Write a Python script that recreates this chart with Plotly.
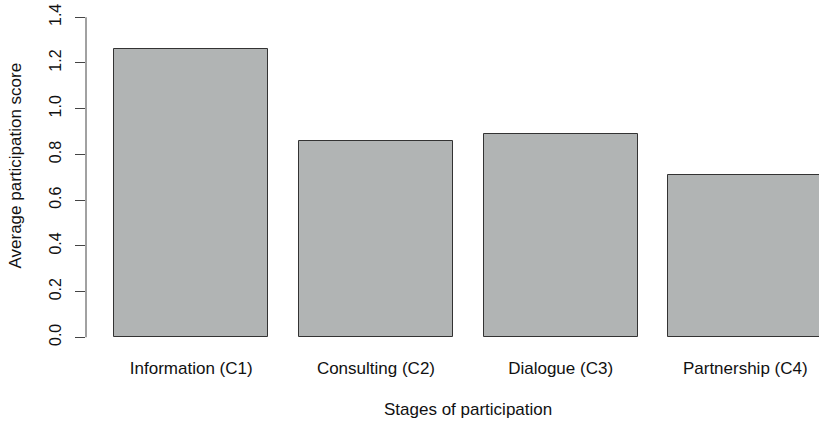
import plotly.graph_objects as go

categories = ["Information (C1)", "Consulting (C2)", "Dialogue (C3)", "Partnership (C4)"]
values = [1.26, 0.86, 0.89, 0.71]
y_ticks = [0.0, 0.2, 0.4, 0.6, 0.8, 1.0, 1.2, 1.4]
y_tick_labels = ["0.0", "0.2", "0.4", "0.6", "0.8", "1.0", "1.2", "1.4"]
x_title = "Stages of participation"
y_title = "Average participation score"

# R barplot layout: width 1, space 0.2
centers = [0.7 + 1.2 * i for i in range(len(categories))]

FONT = "Liberation Sans, Arial, sans-serif"
TXT = "#111111"

fig = go.Figure(
    go.Bar(
        x=centers,
        y=values,
        width=1.0,
        marker=dict(color="#b1b4b4", line=dict(color="#333333", width=1)),
        showlegend=False,
        hoverinfo="skip",
    )
)

fig.update_layout(
    width=819,
    height=423,
    margin=dict(l=86, r=0, t=5, b=73, autoexpand=False),
    paper_bgcolor="white",
    plot_bgcolor="white",
    font=dict(family=FONT, color=TXT, size=17),
    bargap=0,
)

fig.update_xaxes(
    range=[0.016, 4.779],
    tickmode="array",
    tickvals=centers,
    ticktext=categories,
    ticks="",
    showgrid=False,
    zeroline=False,
    showline=False,
    tickfont=dict(size=17, family=FONT, color=TXT),
    ticklabelstandoff=6,
    automargin=False,
)

fig.update_yaxes(
    range=[-0.0556, 1.4536],
    tickmode="array",
    tickvals=y_ticks,
    ticktext=y_tick_labels,
    tickangle=-90,
    ticks="outside",
    ticklen=10,
    tickwidth=1,
    tickcolor="#444444",
    showgrid=False,
    zeroline=False,
    showline=False,
    tickfont=dict(size=16, family=FONT, color=TXT),
    ticklabelstandoff=8,
    automargin=False,
)

fig.add_shape(
    type="line", xref="paper", yref="y",
    x0=0, x1=0, y0=y_ticks[0], y1=y_ticks[-1],
    line=dict(color="#444444", width=1),
)

# axis titles (R centres them on a plot region wider than the visible crop)
fig.add_annotation(
    text=x_title, xref="paper", yref="paper",
    x=(468 - 86) / 733, y=0, yshift=-59,
    xanchor="center", yanchor="middle", showarrow=False,
    font=dict(size=17, family=FONT, color=TXT),
)
fig.add_annotation(
    text=y_title, xref="paper", yref="paper",
    x=0, xshift=-71, y=(350 - 165.5) / 345,
    xanchor="center", yanchor="middle", textangle=-90, showarrow=False,
    font=dict(size=17, family=FONT, color=TXT),
)

fig.write_html(
    "out.html",
    config={"displayModeBar": False},
    post_script="document.body.style.margin='0';document.body.style.overflow='hidden';",
)
